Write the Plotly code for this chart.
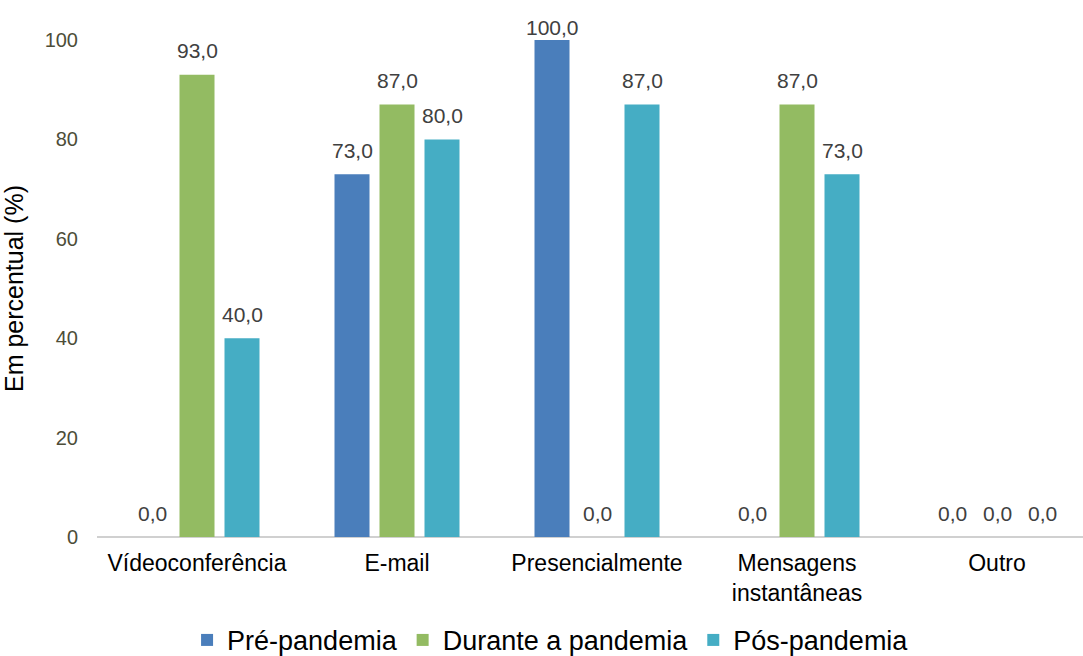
import plotly.graph_objects as go

categories = ["Vídeoconferência", "E-mail", "Presencialmente",
              "Mensagens<br>instantâneas", "Outro"]
series_names = ["Pré-pandemia", "Durante a pandemia", "Pós-pandemia"]
pre_pandemia = [0.0, 73.0, 100.0, 0.0, 0.0]
durante_pandemia = [93.0, 87.0, 0.0, 87.0, 0.0]
pos_pandemia = [40.0, 80.0, 87.0, 73.0, 0.0]
y_ticks = [0, 20, 40, 60, 80, 100]

colors = ["#4a7ebb", "#93bb62", "#45adc4"]
series_values = [pre_pandemia, durante_pandemia, pos_pandemia]

FONT = "Liberation Sans, Arial, sans-serif"
PLOT_H = 656 - 40 - 119
Y_MAX = 100

fig = go.Figure()
for name, vals, col in zip(series_names, series_values, colors):
    fig.add_trace(go.Bar(
        x=list(range(len(categories))), y=vals, name=name,
        marker=dict(color=col, line=dict(width=0)),
    ))

# value labels above each bar (group slot = 0.225 category units);
# labels near the top of the axis are pulled down so they stay inside the page
slot = 0.225
px_per_unit = PLOT_H / Y_MAX
annotations = []
for i, vals in enumerate(series_values):
    off = (i - 1) * slot
    for j, v in enumerate(vals):
        shift = min(24, 13 + (Y_MAX - v) * px_per_unit)
        annotations.append(dict(
            x=j + off, y=v, xref="x", yref="y",
            text=f"{v:.1f}".replace(".", ","),
            showarrow=False, yshift=shift, yanchor="middle",
            font=dict(family=FONT, size=21, color="#404040"),
        ))

fig.update_layout(
    width=1083, height=656,
    margin=dict(l=97, r=0, t=40, b=119, autoexpand=False),
    paper_bgcolor="white", plot_bgcolor="white",
    barmode="group", bargap=0.325, bargroupgap=0.222,
    separators=",.",
    annotations=annotations,
    font=dict(family=FONT, size=20, color="black"),
    xaxis=dict(
        tickmode="array", tickvals=list(range(len(categories))), ticktext=categories,
        range=[-0.5, 4.43], showgrid=False, zeroline=False,
        showline=False, ticks="", ticklabelstandoff=10,
        tickfont=dict(family=FONT, size=23, color="black"),
    ),
    yaxis=dict(
        range=[0, Y_MAX], tickvals=y_ticks, showgrid=False,
        zeroline=True, zerolinecolor="#d0d0d0", zerolinewidth=1.5,
        showline=False, ticks="", ticklabelstandoff=18,
        tickfont=dict(family=FONT, size=20, color="#4d4d38"),
        title=dict(text="Em percentual (%)", font=dict(family=FONT, size=25, color="black"),
                   standoff=14),
    ),
    legend=dict(
        orientation="h", x=0.46, xanchor="center", y=-0.208, yanchor="middle",
        font=dict(family=FONT, size=27, color="black"),
        itemwidth=30, traceorder="normal",
    ),
)

fig.write_html("out.html")
